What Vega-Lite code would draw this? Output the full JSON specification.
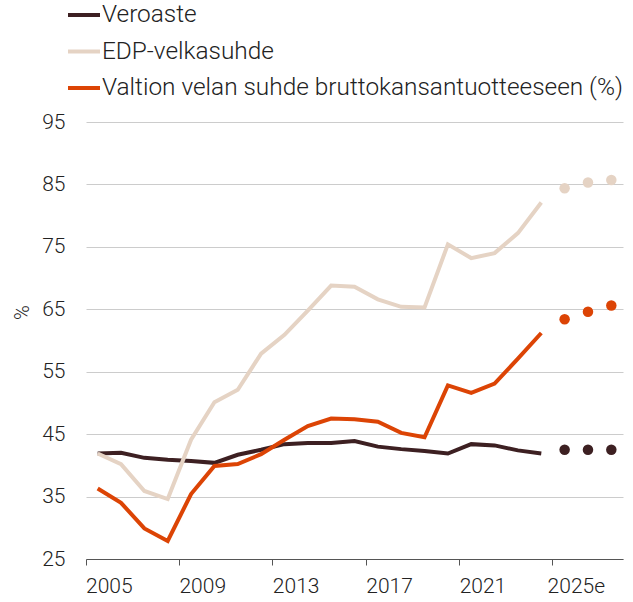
{
  "$schema": "https://vega.github.io/schema/vega-lite/v6.json",
  "width": 537,
  "height": 437,
  "autosize": "none",
  "padding": {"left": 86, "top": 122, "right": 10, "bottom": 43},
  "background": "white",
  "config": {
    "font": "Roboto",
    "view": {"stroke": null},
    "axis": {"labelFont": "Roboto", "labelFontWeight": 300, "labelFontSize": 21, "labelColor": "#222222", "titleFont": "Roboto", "titleFontWeight": 300}
  },
  "data": {
    "values": [
      {"year": "2005", "series": "Veroaste", "value": 41.9, "kind": "actual"},
      {"year": "2006", "series": "Veroaste", "value": 42.0, "kind": "actual"},
      {"year": "2007", "series": "Veroaste", "value": 41.2, "kind": "actual"},
      {"year": "2008", "series": "Veroaste", "value": 40.9, "kind": "actual"},
      {"year": "2009", "series": "Veroaste", "value": 40.7, "kind": "actual"},
      {"year": "2010", "series": "Veroaste", "value": 40.4, "kind": "actual"},
      {"year": "2011", "series": "Veroaste", "value": 41.7, "kind": "actual"},
      {"year": "2012", "series": "Veroaste", "value": 42.5, "kind": "actual"},
      {"year": "2013", "series": "Veroaste", "value": 43.4, "kind": "actual"},
      {"year": "2014", "series": "Veroaste", "value": 43.6, "kind": "actual"},
      {"year": "2015", "series": "Veroaste", "value": 43.6, "kind": "actual"},
      {"year": "2016", "series": "Veroaste", "value": 43.9, "kind": "actual"},
      {"year": "2017", "series": "Veroaste", "value": 43.0, "kind": "actual"},
      {"year": "2018", "series": "Veroaste", "value": 42.6, "kind": "actual"},
      {"year": "2019", "series": "Veroaste", "value": 42.3, "kind": "actual"},
      {"year": "2020", "series": "Veroaste", "value": 41.9, "kind": "actual"},
      {"year": "2021", "series": "Veroaste", "value": 43.4, "kind": "actual"},
      {"year": "2022", "series": "Veroaste", "value": 43.2, "kind": "actual"},
      {"year": "2023", "series": "Veroaste", "value": 42.4, "kind": "actual"},
      {"year": "2024", "series": "Veroaste", "value": 41.9, "kind": "actual"},
      {"year": "2025e", "series": "Veroaste", "value": 42.5, "kind": "estimate"},
      {"year": "2026e", "series": "Veroaste", "value": 42.5, "kind": "estimate"},
      {"year": "2027e", "series": "Veroaste", "value": 42.5, "kind": "estimate"},
      {"year": "2005", "series": "EDP-velkasuhde", "value": 41.9, "kind": "actual"},
      {"year": "2006", "series": "EDP-velkasuhde", "value": 40.2, "kind": "actual"},
      {"year": "2007", "series": "EDP-velkasuhde", "value": 35.9, "kind": "actual"},
      {"year": "2008", "series": "EDP-velkasuhde", "value": 34.6, "kind": "actual"},
      {"year": "2009", "series": "EDP-velkasuhde", "value": 44.1, "kind": "actual"},
      {"year": "2010", "series": "EDP-velkasuhde", "value": 50.1, "kind": "actual"},
      {"year": "2011", "series": "EDP-velkasuhde", "value": 52.1, "kind": "actual"},
      {"year": "2012", "series": "EDP-velkasuhde", "value": 57.9, "kind": "actual"},
      {"year": "2013", "series": "EDP-velkasuhde", "value": 60.9, "kind": "actual"},
      {"year": "2014", "series": "EDP-velkasuhde", "value": 64.8, "kind": "actual"},
      {"year": "2015", "series": "EDP-velkasuhde", "value": 68.8, "kind": "actual"},
      {"year": "2016", "series": "EDP-velkasuhde", "value": 68.6, "kind": "actual"},
      {"year": "2017", "series": "EDP-velkasuhde", "value": 66.6, "kind": "actual"},
      {"year": "2018", "series": "EDP-velkasuhde", "value": 65.4, "kind": "actual"},
      {"year": "2019", "series": "EDP-velkasuhde", "value": 65.3, "kind": "actual"},
      {"year": "2020", "series": "EDP-velkasuhde", "value": 75.4, "kind": "actual"},
      {"year": "2021", "series": "EDP-velkasuhde", "value": 73.2, "kind": "actual"},
      {"year": "2022", "series": "EDP-velkasuhde", "value": 74.0, "kind": "actual"},
      {"year": "2023", "series": "EDP-velkasuhde", "value": 77.2, "kind": "actual"},
      {"year": "2024", "series": "EDP-velkasuhde", "value": 82.1, "kind": "actual"},
      {"year": "2025e", "series": "EDP-velkasuhde", "value": 84.4, "kind": "estimate"},
      {"year": "2026e", "series": "EDP-velkasuhde", "value": 85.3, "kind": "estimate"},
      {"year": "2027e", "series": "EDP-velkasuhde", "value": 85.7, "kind": "estimate"},
      {"year": "2005", "series": "Valtion velan suhde bruttokansantuotteeseen (%)", "value": 36.3, "kind": "actual"},
      {"year": "2006", "series": "Valtion velan suhde bruttokansantuotteeseen (%)", "value": 34.0, "kind": "actual"},
      {"year": "2007", "series": "Valtion velan suhde bruttokansantuotteeseen (%)", "value": 29.9, "kind": "actual"},
      {"year": "2008", "series": "Valtion velan suhde bruttokansantuotteeseen (%)", "value": 27.9, "kind": "actual"},
      {"year": "2009", "series": "Valtion velan suhde bruttokansantuotteeseen (%)", "value": 35.4, "kind": "actual"},
      {"year": "2010", "series": "Valtion velan suhde bruttokansantuotteeseen (%)", "value": 39.9, "kind": "actual"},
      {"year": "2011", "series": "Valtion velan suhde bruttokansantuotteeseen (%)", "value": 40.2, "kind": "actual"},
      {"year": "2012", "series": "Valtion velan suhde bruttokansantuotteeseen (%)", "value": 41.8, "kind": "actual"},
      {"year": "2013", "series": "Valtion velan suhde bruttokansantuotteeseen (%)", "value": 44.1, "kind": "actual"},
      {"year": "2014", "series": "Valtion velan suhde bruttokansantuotteeseen (%)", "value": 46.3, "kind": "actual"},
      {"year": "2015", "series": "Valtion velan suhde bruttokansantuotteeseen (%)", "value": 47.5, "kind": "actual"},
      {"year": "2016", "series": "Valtion velan suhde bruttokansantuotteeseen (%)", "value": 47.4, "kind": "actual"},
      {"year": "2017", "series": "Valtion velan suhde bruttokansantuotteeseen (%)", "value": 47.0, "kind": "actual"},
      {"year": "2018", "series": "Valtion velan suhde bruttokansantuotteeseen (%)", "value": 45.2, "kind": "actual"},
      {"year": "2019", "series": "Valtion velan suhde bruttokansantuotteeseen (%)", "value": 44.5, "kind": "actual"},
      {"year": "2020", "series": "Valtion velan suhde bruttokansantuotteeseen (%)", "value": 52.8, "kind": "actual"},
      {"year": "2021", "series": "Valtion velan suhde bruttokansantuotteeseen (%)", "value": 51.6, "kind": "actual"},
      {"year": "2022", "series": "Valtion velan suhde bruttokansantuotteeseen (%)", "value": 53.1, "kind": "actual"},
      {"year": "2023", "series": "Valtion velan suhde bruttokansantuotteeseen (%)", "value": 57.1, "kind": "actual"},
      {"year": "2024", "series": "Valtion velan suhde bruttokansantuotteeseen (%)", "value": 61.2, "kind": "actual"},
      {"year": "2025e", "series": "Valtion velan suhde bruttokansantuotteeseen (%)", "value": 63.4, "kind": "estimate"},
      {"year": "2026e", "series": "Valtion velan suhde bruttokansantuotteeseen (%)", "value": 64.6, "kind": "estimate"},
      {"year": "2027e", "series": "Valtion velan suhde bruttokansantuotteeseen (%)", "value": 65.6, "kind": "estimate"}
    ]
  },
  "encoding": {
    "x": {
      "field": "year",
      "type": "ordinal",
      "sort": null,
      "scale": {"type": "band", "paddingInner": 0, "paddingOuter": 0},
      "axis": {
        "title": null,
        "values": ["2005", "2009", "2013", "2017", "2021", "2025e"],
        "bandPosition": 0,
        "labelOffset": 11.7,
        "labelAngle": 0,
        "labelPadding": 10,
        "tickSize": 6,
        "tickColor": "#555555",
        "domainColor": "#555555",
        "grid": false
      }
    },
    "y": {
      "field": "value",
      "type": "quantitative",
      "scale": {"domain": [25, 95], "nice": false, "zero": false},
      "axis": {
        "values": [25, 35, 45, 55, 65, 75, 85, 95],
        "title": "%",
        "titleFontSize": 20,
        "titleColor": "#222222",
        "titleX": -54,
        "titleY": 190,
        "domain": false,
        "ticks": false,
        "labelPadding": 21,
        "grid": true,
        "gridColor": "#cccccc",
        "gridWidth": 1
      }
    },
    "color": {
      "field": "series",
      "type": "nominal",
      "scale": {
        "domain": ["Veroaste", "EDP-velkasuhde", "Valtion velan suhde bruttokansantuotteeseen (%)"],
        "range": ["#3d2022", "#e5d3c4", "#dc4405"]
      },
      "legend": {
        "title": null,
        "orient": "none",
        "legendX": -20,
        "legendY": -125,
        "symbolType": "stroke",
        "symbolSize": 1024,
        "symbolStrokeWidth": 4,
        "labelFont": "Roboto",
        "labelFontWeight": 300,
        "labelFontSize": 24.4,
        "labelColor": "#222222",
        "labelOffset": 0,
        "labelLimit": 700,
        "rowPadding": 6.5,
        "padding": 0
      }
    }
  },
  "layer": [
    {
      "transform": [{"filter": "datum.kind === 'actual'"}],
      "mark": {"type": "line", "strokeWidth": 4, "strokeJoin": "miter"},
      "encoding": {"detail": {"field": "series"}}
    },
    {
      "transform": [{"filter": "datum.kind === 'estimate'"}],
      "mark": {"type": "circle", "size": 110, "opacity": 1},
      "encoding": {"color": {"field": "series", "type": "nominal", "legend": null}}
    }
  ]
}
